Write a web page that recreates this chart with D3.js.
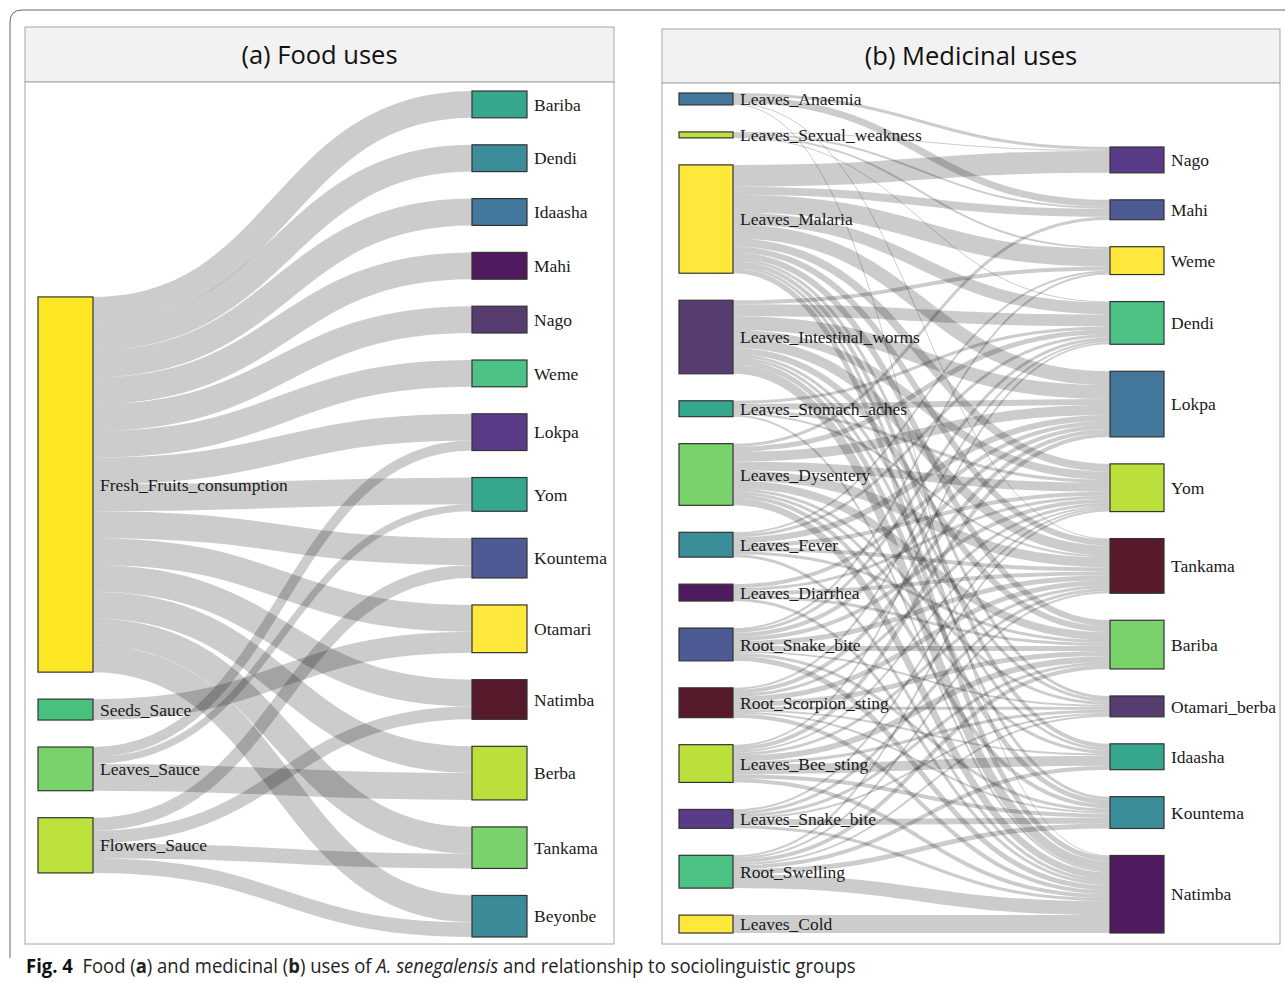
<!DOCTYPE html>
<html>
<head>
<meta charset="utf-8">
<script src="https://cdn.jsdelivr.net/npm/d3@7"></script>
<style>
  body { margin: 0; background: #fff; }
  svg { display: block; }
</style>
</head>
<body>
<svg id="chart" width="1285" height="983"></svg>
<script>
// ---- (a) food uses ----
var foodUses = ['Fresh_Fruits_consumption', 'Seeds_Sauce', 'Leaves_Sauce', 'Flowers_Sauce'];
var foodGroups = ['Bariba', 'Dendi', 'Idaasha', 'Mahi', 'Nago', 'Weme', 'Lokpa', 'Yom',
  'Kountema', 'Otamari', 'Natimba', 'Berba', 'Tankama', 'Beyonbe'];
// rows follow foodUses, columns follow foodGroups
var foodValues = [
  [100, 100, 100, 100, 100, 100, 100, 100, 100, 100, 100, 100, 100, 100],
  [0, 0, 0, 0, 0, 0, 0, 0, 0, 78, 0, 0, 0, 0],
  [0, 0, 0, 0, 0, 0, 37, 26, 0, 0, 0, 100, 0, 0],
  [0, 0, 0, 0, 0, 0, 0, 0, 48, 0, 48, 0, 55, 55]
];
var foodUseColors = ['#fde725', '#48c17f', '#7ad26a', '#bde23d'];
var foodGroupColors = ['#35a78f', '#3b8d99', '#43779b', '#501a5e', '#573c70', '#4cc384', '#5a3b87',
  '#35a78f', '#4e5a93', '#fde83b', '#561a2b', '#bce03b', '#7ad26a', '#3b8b98'];

// ---- (b) medicinal uses ----
var medUses = ['Leaves_Anaemia', 'Leaves_Sexual_weakness', 'Leaves_Malaria', 'Leaves_Intestinal_worms',
  'Leaves_Stomach_aches', 'Leaves_Dysentery', 'Leaves_Fever', 'Leaves_Diarrhea', 'Root_Snake_bite',
  'Root_Scorpion_sting', 'Leaves_Bee_sting', 'Leaves_Snake_bite', 'Root_Swelling', 'Leaves_Cold'];
var medGroups = ['Nago', 'Mahi', 'Weme', 'Dendi', 'Lokpa', 'Yom', 'Tankama', 'Bariba',
  'Otamari_berba', 'Idaasha', 'Kountema', 'Natimba'];
// rows follow medUses, columns follow medGroups
var medValues = [
  [3, 7, 0, 0, 0, 0, 1, 0, 0, 0, 0, 1],
  [1, 2, 2, 1, 0, 0, 0, 0, 0, 0, 0, 0],
  [22, 8, 18, 12, 14, 8, 6, 6, 3, 4, 3, 5],
  [0, 0, 4, 12, 14, 8, 10, 6, 3, 3, 5, 9],
  [0, 0, 0, 3, 6, 3, 2, 0, 0, 0, 0, 2],
  [0, 3, 0, 5, 10, 9, 10, 8, 3, 3, 4, 7],
  [0, 0, 2, 3, 6, 4, 4, 3, 0, 0, 0, 3],
  [0, 0, 0, 0, 4, 3, 4, 3, 0, 0, 0, 3],
  [0, 0, 2, 3, 4, 4, 5, 5, 2, 0, 3, 5],
  [0, 0, 0, 2, 4, 3, 5, 5, 3, 2, 2, 4],
  [0, 0, 0, 2, 4, 2, 3, 6, 3, 10, 4, 4],
  [0, 0, 0, 0, 0, 2, 3, 3, 2, 0, 6, 3],
  [0, 0, 0, 0, 0, 2, 2, 4, 2, 4, 5, 14],
  [0, 0, 0, 0, 0, 0, 0, 0, 0, 0, 0, 18]
];
var medUseColors = ['#43779b', '#bde23d', '#fde83b', '#573c70', '#35a78f', '#7ad26a', '#3b8d99',
  '#501a5e', '#4e5a93', '#561a2b', '#bce03b', '#5a3b87', '#4cc384', '#fde83b'];
var medGroupColors = ['#5a3b87', '#4e5a93', '#fde83b', '#4cc384', '#43779b', '#bce03b', '#561a2b',
  '#7ad26a', '#573c70', '#35a78f', '#3b8d99', '#501a5e'];

var svg = d3.select('#chart');

// outer frame of the figure
svg.append('path')
  .attr('d', 'M10,958 L10,22 Q10,10 22,10 L1285,10')
  .attr('fill', 'none')
  .attr('stroke', '#666')
  .attr('stroke-width', 1);

// two-column sankey, same relaxation as the old d3 sankey plugin, node order kept as given
function sankey(sources, targets, values, extent, padding, iterations) {
  var nodes = [], links = [];
  sources.forEach(function (name, i) { nodes.push({name: name, col: 0, idx: i, sourceLinks: [], targetLinks: []}); });
  targets.forEach(function (name, i) { nodes.push({name: name, col: 1, idx: i, sourceLinks: [], targetLinks: []}); });
  values.forEach(function (row, i) {
    row.forEach(function (v, j) {
      if (v > 0) {
        var link = {source: nodes[i], target: nodes[sources.length + j], value: v};
        link.source.sourceLinks.push(link);
        link.target.targetLinks.push(link);
        links.push(link);
      }
    });
  });
  nodes.forEach(function (n) {
    n.value = Math.max(d3.sum(n.sourceLinks, function (l) { return l.value; }),
      d3.sum(n.targetLinks, function (l) { return l.value; }));
  });
  var columns = [nodes.filter(function (n) { return n.col === 0; }), nodes.filter(function (n) { return n.col === 1; })];
  var ky = d3.min(columns, function (c) {
    return (extent[1] - extent[0] - (c.length - 1) * padding) / d3.sum(c, function (n) { return n.value; });
  });
  columns.forEach(function (c) {
    c.forEach(function (n, i) { n.y = extent[0] + i; n.dy = n.value * ky; });
  });
  links.forEach(function (l) { l.dy = l.value * ky; });

  function center(n) { return n.y + n.dy / 2; }

  function resolveCollisions() {
    columns.forEach(function (c) {
      var y0 = extent[0], dy, n, i;
      for (i = 0; i < c.length; i++) {
        n = c[i];
        dy = y0 - n.y;
        if (dy > 0) n.y += dy;
        y0 = n.y + n.dy + padding;
      }
      dy = y0 - padding - extent[1];
      if (dy > 0) {
        y0 = n.y -= dy;
        for (i = c.length - 2; i >= 0; i--) {
          n = c[i];
          dy = n.y + n.dy + padding - y0;
          if (dy > 0) n.y -= dy;
          y0 = n.y;
        }
      }
    });
  }

  resolveCollisions();
  for (var alpha = 1; iterations > 0; --iterations) {
    alpha *= 0.99;
    columns[0].forEach(function (n) {
      var y = d3.sum(n.sourceLinks, function (l) { return center(l.target) * l.value; }) /
        d3.sum(n.sourceLinks, function (l) { return l.value; });
      n.y += (y - center(n)) * alpha;
    });
    resolveCollisions();
    columns[1].forEach(function (n) {
      var y = d3.sum(n.targetLinks, function (l) { return center(l.source) * l.value; }) /
        d3.sum(n.targetLinks, function (l) { return l.value; });
      n.y += (y - center(n)) * alpha;
    });
    resolveCollisions();
  }

  // stack links on each node
  nodes.forEach(function (n) {
    n.sourceLinks.sort(function (a, b) { return a.target.y - b.target.y; });
    n.targetLinks.sort(function (a, b) { return a.source.y - b.source.y; });
    var sy = 0, ty = 0;
    n.sourceLinks.forEach(function (l) { l.sy = sy; sy += l.dy; });
    n.targetLinks.forEach(function (l) { l.ty = ty; ty += l.dy; });
  });
  return {nodes: nodes, links: links};
}

function drawPanel(opt) {
  var g = svg.append('g');

  // header and plot boxes
  g.append('rect')
    .attr('x', opt.box[0]).attr('y', opt.box[1])
    .attr('width', opt.box[2] - opt.box[0]).attr('height', opt.headerBottom - opt.box[1])
    .attr('fill', '#f2f2f2').attr('stroke', '#a6a6a6');
  g.append('rect')
    .attr('x', opt.box[0]).attr('y', opt.headerBottom)
    .attr('width', opt.box[2] - opt.box[0]).attr('height', opt.box[3] - opt.headerBottom)
    .attr('fill', '#fff').attr('stroke', '#a6a6a6');
  g.append('text')
    .attr('x', (opt.box[0] + opt.box[2]) / 2)
    .attr('y', (opt.box[1] + opt.headerBottom) / 2)
    .attr('dy', '0.36em')
    .attr('text-anchor', 'middle')
    .attr('font-family', '"Open Sans", "Noto Sans", sans-serif')
    .attr('font-size', 25.5)
    .attr('fill', '#111')
    .text(opt.title);

  var graph = sankey(opt.sources, opt.targets, opt.values, opt.extent, 27, 32);
  var x = d3.scaleLinear().domain([0, 1]).range(opt.columnsX);
  var nodeWidth = opt.nodeWidth;

  var link = d3.linkHorizontal()
    .source(function (d) { return [x(0) + nodeWidth, d.source.y + d.sy + d.dy / 2]; })
    .target(function (d) { return [x(1), d.target.y + d.ty + d.dy / 2]; });

  g.append('g')
    .selectAll('path')
    .data(graph.links)
    .enter().append('path')
    .attr('d', link)
    .attr('fill', 'none')
    .attr('stroke', '#000')
    .attr('stroke-opacity', 0.2)
    .attr('stroke-width', function (d) { return Math.max(1, d.dy); });

  var node = g.append('g')
    .selectAll('g')
    .data(graph.nodes)
    .enter().append('g')
    .attr('transform', function (d) { return 'translate(' + x(d.col) + ',' + d.y + ')'; });

  node.append('rect')
    .attr('width', nodeWidth)
    .attr('height', function (d) { return Math.max(1, d.dy); })
    .attr('fill', function (d) { return d.col === 0 ? opt.sourceColors[d.idx] : opt.targetColors[d.idx]; })
    .attr('stroke', '#333')
    .attr('stroke-width', 1.2);

  node.append('text')
    .attr('x', nodeWidth + 7)
    .attr('y', function (d) { return d.dy / 2; })
    .attr('dy', '0.35em')
    .attr('font-family', '"Liberation Serif", "Times New Roman", serif')
    .attr('font-size', 17.5)
    .attr('fill', '#1a1a1a')
    .text(function (d) { return d.name; });
}

drawPanel({
  title: '(a) Food uses',
  box: [25, 27, 614, 944],
  headerBottom: 82,
  extent: [91, 937],
  columnsX: [38, 472],
  nodeWidth: 55,
  sources: foodUses,
  targets: foodGroups,
  values: foodValues,
  sourceColors: foodUseColors,
  targetColors: foodGroupColors
});

drawPanel({
  title: '(b) Medicinal uses',
  box: [662, 29, 1280, 944],
  headerBottom: 83,
  extent: [93, 933],
  columnsX: [679, 1110],
  nodeWidth: 54,
  sources: medUses,
  targets: medGroups,
  values: medValues,
  sourceColors: medUseColors,
  targetColors: medGroupColors
});

// caption, squeezed horizontally to the width of the narrow journal font
var captionG = svg.append('g');
var caption = captionG.append('text')
  .attr('font-family', '"Open Sans", "Noto Sans", sans-serif')
  .attr('font-size', 19.5)
  .attr('fill', '#222');
caption.append('tspan').attr('font-weight', 'bold').attr('fill', '#111').text('Fig. 4');
caption.append('tspan').text('\u00a0 Food (');
caption.append('tspan').attr('font-weight', 'bold').text('a');
caption.append('tspan').text(') and medicinal (');
caption.append('tspan').attr('font-weight', 'bold').text('b');
caption.append('tspan').text(') uses of ');
caption.append('tspan').attr('font-style', 'italic').text('A. senegalensis');
caption.append('tspan').text(' and relationship to sociolinguistic groups');
var captionWidth = caption.node().getComputedTextLength();
captionG.attr('transform', 'translate(26,973) scale(' + (830 / captionWidth) + ',1)');
</script>
</body>
</html>
